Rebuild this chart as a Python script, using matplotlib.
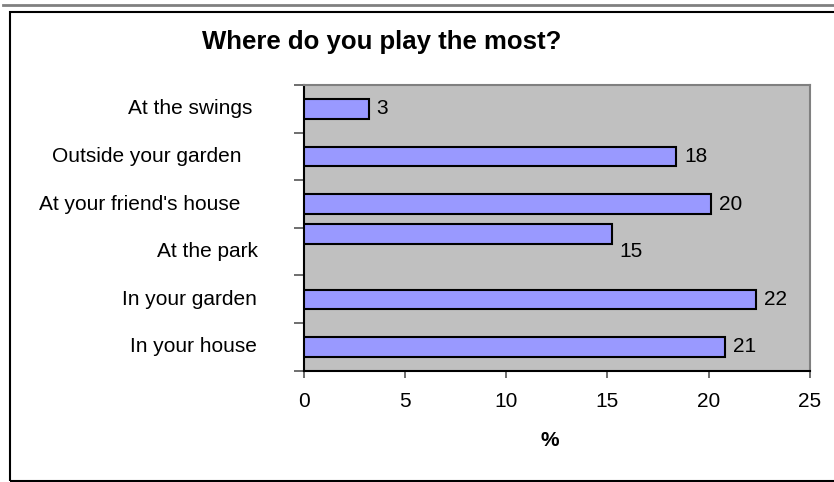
import matplotlib
matplotlib.use("Agg")
import matplotlib.pyplot as plt
from matplotlib.patches import Rectangle
from matplotlib.lines import Line2D
import matplotlib.transforms as mtransforms

# data, bottom to top as drawn
places = ["In your house", "In your garden", "At the park",
          "At your friend's house", "Outside your garden", "At the swings"]
percent = [20.8, 22.35, 15.2, 20.1, 18.4, 3.2]
x_ticks = [0, 5, 10, 15, 20, 25]

plt.rcParams['font.family'] = ['Liberation Sans', 'DejaVu Sans']

W, H = 834, 482
fig = plt.figure(figsize=(W / 100, H / 100), dpi=100)
fig.patch.set_facecolor("white")

# plot area in pixels: x 303.7..810, y 85..370.7
ax = fig.add_axes([303.7 / W, 1 - 370.7 / H, (810 - 303.7) / W, (370.7 - 85) / H])
ax.set_facecolor("#C0C0C0")

# excel drew the park bar a bit off its slot
bar_shift = [0, 0, 0.37, 0, 0, 0]
ypos = [i + 0.5 for i in range(len(places))]
ax.barh([y + s for y, s in zip(ypos, bar_shift)], percent, height=0.41,
        color="#9999FF", edgecolor="black", linewidth=1.5, zorder=3)

lbl_off = mtransforms.offset_copy(ax.transData, fig=fig, x=8, y=0, units="dots")
for y, v in zip(ypos, percent):
    ax.text(v, y, "%.0f" % v, transform=lbl_off, ha="left", va="center",
            fontsize=15, color="black")

ax.set_xlim(0, 25)
ax.set_ylim(0, 6)
ax.set_xticks(x_ticks)
ax.set_xticklabels([str(t) for t in x_ticks], fontsize=15)
ax.tick_params(axis="x", direction="out", length=5, width=1.2, color="#555555", pad=10)

ax.set_yticks(range(len(places) + 1))
ax.set_yticklabels([])
ax.tick_params(axis="y", direction="out", length=7, width=1.2, color="#555555")

# category labels, right edges (pixels)
label_right_px = [257, 257, 258, 240, 242, 252]
tr = mtransforms.blended_transform_factory(fig.transFigure, ax.transData)
for y, name, rx in zip(ypos, places, label_right_px):
    ax.text(rx / W, y, name, transform=tr, ha="right", va="center", fontsize=15)

for side in ["top", "right"]:
    ax.spines[side].set_color("#808080")
    ax.spines[side].set_linewidth(1.5)
for side in ["left", "bottom"]:
    ax.spines[side].set_color("black")
    ax.spines[side].set_linewidth(1.5)

ax.set_xlabel("%", fontsize=15, fontweight="bold")
ax.xaxis.set_label_coords((550 - 303.7) / (810 - 303.7), -(431 - 370.7) / (370.7 - 85))

fig.text(381.5 / W, 1 - 42.5 / H, "Where do you play the most?", ha="center", va="center",
         fontsize=18.5, fontweight="bold")

# outer chart frame (cut off on the right)
fig.patches.append(Rectangle((10 / W, 1 - 480.5 / H), 1.0, (480.5 - 12) / H,
                             transform=fig.transFigure, fill=False,
                             edgecolor="black", linewidth=1.5))
fig.lines.append(Line2D([3 / W, 1], [1 - 5 / H, 1 - 5 / H], transform=fig.transFigure,
                        color="#808080", linewidth=2))

fig.savefig("out.png", dpi=100)
